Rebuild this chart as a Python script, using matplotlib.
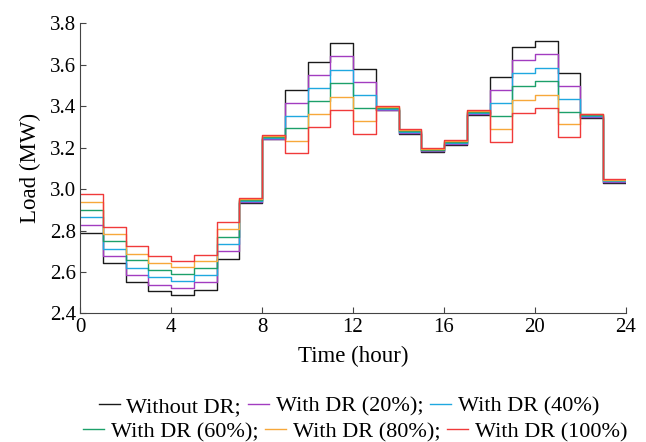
import matplotlib
matplotlib.use("Agg")
import matplotlib.pyplot as plt
import numpy as np

plt.rcParams['font.family'] = ['Liberation Serif', 'DejaVu Serif']

# hourly load (MW), hours 0..23
hours = np.arange(0, 25)
without_dr = [2.788, 2.641, 2.552, 2.507, 2.488, 2.515, 2.664, 2.935, 3.240, 3.479, 3.615, 3.707,
              3.580, 3.380, 3.266, 3.178, 3.213, 3.360, 3.540, 3.687, 3.713, 3.561, 3.343, 3.030]
dr_20 = [2.825, 2.676, 2.586, 2.539, 2.522, 2.551, 2.701, 2.939, 3.244, 3.415, 3.552, 3.642,
         3.517, 3.384, 3.270, 3.182, 3.218, 3.364, 3.479, 3.625, 3.652, 3.498, 3.347, 3.034]
dr_40 = [2.864, 2.713, 2.621, 2.575, 2.555, 2.586, 2.736, 2.943, 3.249, 3.353, 3.488, 3.576,
         3.455, 3.388, 3.275, 3.187, 3.223, 3.369, 3.416, 3.561, 3.586, 3.437, 3.352, 3.038]
dr_60 = [2.901, 2.749, 2.657, 2.610, 2.589, 2.620, 2.770, 2.947, 3.253, 3.294, 3.427, 3.511,
         3.392, 3.392, 3.279, 3.191, 3.227, 3.373, 3.353, 3.497, 3.522, 3.374, 3.356, 3.042]
dr_80 = [2.938, 2.784, 2.689, 2.641, 2.623, 2.652, 2.808, 2.951, 3.258, 3.233, 3.363, 3.446,
         3.329, 3.396, 3.284, 3.196, 3.232, 3.377, 3.292, 3.432, 3.455, 3.312, 3.361, 3.046]
dr_100 = [2.976, 2.817, 2.724, 2.676, 2.652, 2.681, 2.843, 2.955, 3.262, 3.172, 3.300, 3.382,
          3.265, 3.400, 3.288, 3.200, 3.237, 3.381, 3.228, 3.368, 3.392, 3.251, 3.365, 3.050]

series = [without_dr, dr_20, dr_40, dr_60, dr_80, dr_100]
labels = ['Without DR;', 'With DR (20%);', 'With DR (40%)',
          'With DR (60%);', 'With DR (80%);', 'With DR (100%)']
colors = ['#1a1a1a', '#a23cc0', '#1fa8e0', '#1ca06a', '#f7a83a', '#f03a3a']

fig = plt.figure(figsize=(6.46, 4.42), dpi=100)
ax = fig.add_axes([0.124, 0.291, 0.845, 0.656])

handles = []
for vals, lab, c in zip(series, labels, colors):
    y = list(vals) + [vals[-1]]
    h, = ax.step(hours, y, where='post', color=c, lw=1.0, label=lab)
    handles.append(h)

ax.set_xlim(0, 24)
ax.set_ylim(2.4, 3.8)
ax.set_xticks(np.arange(0, 25, 4))
ax.set_yticks(np.arange(2.4, 3.81, 0.2))
ax.set_yticklabels([f'{v:.1f}' for v in np.arange(2.4, 3.81, 0.2)])
ax.tick_params(direction='in', labelsize=15, length=4, color='#444444', pad=3)
for s in ['top', 'right']:
    ax.spines[s].set_visible(False)
for s in ['left', 'bottom']:
    ax.spines[s].set_color('#444444')
ax.set_xlabel('Time (hour)', fontsize=16.5, labelpad=7)
ax.set_ylabel('Load (MW)', fontsize=16.5, labelpad=6)

leg_kw = dict(ncol=3, frameon=False, fontsize=16, handlelength=0.95,
              handletextpad=0.3, columnspacing=0.3, borderpad=0, borderaxespad=0)
fig.legend(handles[:3], labels[:3], loc='center', bbox_to_anchor=(0.54, 0.080), **leg_kw)
fig.legend(handles[3:], labels[3:], loc='center', bbox_to_anchor=(0.55, 0.023), **leg_kw)

fig.savefig('out.png', dpi=100)
